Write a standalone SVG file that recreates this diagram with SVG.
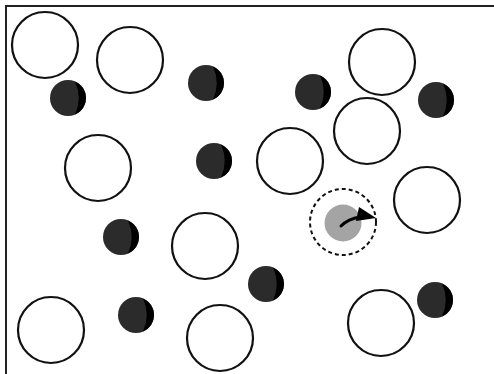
<svg xmlns="http://www.w3.org/2000/svg" xmlns:xlink="http://www.w3.org/1999/xlink" width="494" height="374" viewBox="0 0 494 374">
<style>
.open{fill:#fff;stroke:#111;stroke-width:2.2}
.frame{stroke:#222;stroke-width:2;fill:none}
.dk{fill:#2b2b2b}
.cr{fill:#000}
.probe{fill:#a4a4a4}
.halo{fill:none;stroke:#111;stroke-width:2;stroke-dasharray:4 3}
.arrow{fill:none;stroke:#000;stroke-width:3;stroke-linecap:round}
.head{fill:#000}
</style>
<defs>
<g id="dark">
<circle class="dk" cx="0" cy="0" r="18"/>
<path class="cr" d="M7,-16.6 A18,18 0 0 1 7,16.6 A40,40 0 0 0 7,-16.6 Z"/>
</g>
</defs>
<rect width="494" height="374" fill="#fff"/>
<g id="frame">
<line class="frame" x1="6" y1="6" x2="494" y2="6"/>
<line class="frame" x1="6" y1="5" x2="6" y2="374"/>
</g>
<g id="open-1"><circle class="open" cx="45" cy="45" r="33"/></g>
<g id="open-2"><circle class="open" cx="130" cy="60" r="33"/></g>
<g id="open-3"><circle class="open" cx="382" cy="62" r="33"/></g>
<g id="open-4"><circle class="open" cx="367" cy="131" r="33"/></g>
<g id="open-5"><circle class="open" cx="98" cy="168" r="33"/></g>
<g id="open-6"><circle class="open" cx="290" cy="161" r="33"/></g>
<g id="open-7"><circle class="open" cx="427" cy="200" r="33"/></g>
<g id="open-8"><circle class="open" cx="205" cy="246" r="33"/></g>
<g id="open-9"><circle class="open" cx="51" cy="330" r="33"/></g>
<g id="open-10"><circle class="open" cx="220" cy="338" r="33"/></g>
<g id="open-11"><circle class="open" cx="381" cy="323" r="33"/></g>
<g id="dark-1"><use xlink:href="#dark" x="68" y="98"/></g>
<g id="dark-2"><use xlink:href="#dark" x="206" y="83"/></g>
<g id="dark-3"><use xlink:href="#dark" x="313" y="92"/></g>
<g id="dark-4"><use xlink:href="#dark" x="436" y="100"/></g>
<g id="dark-5"><use xlink:href="#dark" x="214" y="161"/></g>
<g id="dark-6"><use xlink:href="#dark" x="121" y="237"/></g>
<g id="dark-7"><use xlink:href="#dark" x="266" y="284"/></g>
<g id="dark-8"><use xlink:href="#dark" x="136" y="315"/></g>
<g id="dark-9"><use xlink:href="#dark" x="435" y="300"/></g>
<g id="probe">
<circle class="probe" cx="343" cy="223" r="18.5"/>
<circle class="halo" cx="343" cy="222" r="33"/>
</g>
<g id="connectors">
<path class="arrow" d="M341,226 Q348,219 360,217"/>
<path class="head" d="M359,207 L376,218 L356,221 Z"/>
</g>
</svg>
